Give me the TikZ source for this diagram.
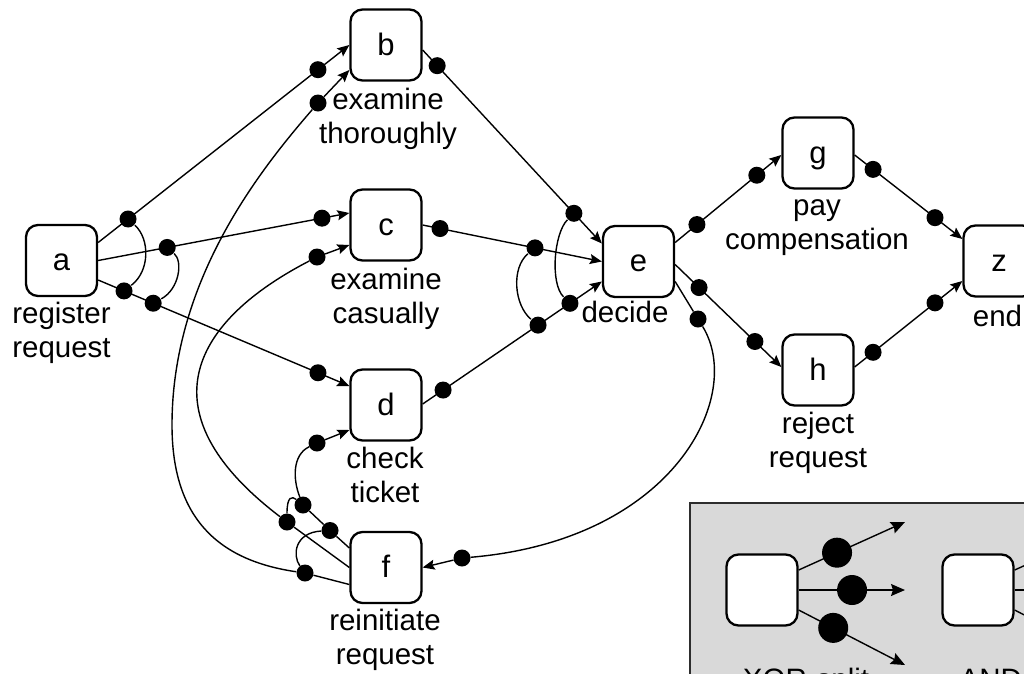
\documentclass[tikz,border=0pt]{standalone}
\usepackage{fontspec}
\setmainfont{Liberation Sans}
\usetikzlibrary{arrows.meta}
\definecolor{legendfill}{RGB}{217,217,217}
\definecolor{legendline}{RGB}{45,45,45}
\begin{document}
\begin{tikzpicture}[x=1pt,y=-1pt,
  box/.style={draw, line width=2.3pt, rounded corners=12pt, fill=white,
    minimum width=71pt, minimum height=71pt, inner sep=0pt,
    text height=20pt, text depth=0pt, font=\fontsize{31}{34}\selectfont},
  lbl/.style={anchor=north, inner sep=0pt, align=center,
    font=\fontsize{29.5}{34}\selectfont},
  dot/.style={circle, fill=black, inner sep=0pt, minimum size=17pt},
  bigdot/.style={circle, fill=black, inner sep=0pt, minimum size=30pt},
  conn/.style={line width=1.4pt, -{Stealth[length=12pt,width=10pt,inset=2pt]}},
  lconn/.style={line width=1.4pt, -{Stealth[length=14pt,width=12pt,inset=2pt]}},
  link/.style={line width=1.4pt}]
\useasboundingbox (0,0) rectangle (1024,673);
\clip (0,0) rectangle (1024,673);

% activities
\node[box] (a) at (61.5,260.5) {a};
\node[box] (b) at (386,45) {b};
\node[box] (c) at (386,225) {c};
\node[box] (d) at (386,405) {d};
\node[box] (e) at (638.5,261.5) {e};
\node[box] (f) at (386,567.5) {f};
\node[box] (g) at (818,153) {g};
\node[box] (h) at (818,370) {h};
\node[box] (z) at (999,261) {z};

% activity names
\node[lbl] (la) at (61.5,299.2) {\strut register\\request};
\node[lbl] (lb) at (388,85.2) {\strut examine\\thoroughly};
\node[lbl] (lc) at (386,265.2) {\strut examine\\casually};
\node[lbl] (ld) at (385,444.2) {\strut check\\ticket};
\node[lbl] (le) at (625,298.2) {\strut decide};
\node[lbl] (lf) at (385,606.2) {\strut reinitiate\\request};
\node[lbl] (lg) at (817,191.2) {\strut pay\\compensation};
\node[lbl] (lh) at (818,409.2) {\strut reject\\request};
\node[lbl] (lz) at (997.5,302.2) {\strut end};

% straight arcs with their binding dots
\draw[conn] ([yshift=18pt]a.east) -- node[dot,pos=0.119] (ab1) {} node[dot,pos=0.875] (ab2) {} (b.west);
\draw[conn] (a.east) -- node[dot,pos=0.275] (ac1) {} node[dot,pos=0.891] (ac2) {} ([yshift=12pt]c.west);
\draw[conn] ([yshift=-19.5pt]a.east) -- node[dot,pos=0.103] (ad1) {} node[dot,pos=0.219] (ad2) {} node[dot,pos=0.875] (ad3) {} ([yshift=19pt]d.west);
\draw[conn] ([yshift=-5pt]b.east) -- node[dot,pos=0.081] (be1) {} node[dot,pos=0.844] (be2) {} ([yshift=18pt]e.west);
\draw[conn] (c.east) -- node[dot,pos=0.097] (ce1) {} node[dot,pos=0.627] (ce2) {} (e.west);
\draw[conn] ([yshift=1pt]d.east) -- node[dot,pos=0.114] (de1) {} node[dot,pos=0.644] (de2) {} node[dot,pos=0.822] (de3) {} ([yshift=-20pt]e.west);
\draw[conn] ([yshift=19pt]e.east) -- node[dot,pos=0.205] (eg1) {} node[dot,pos=0.769] (eg2) {} ([yshift=-2pt]g.west);
\draw[conn] ([yshift=-3pt]e.east) -- node[dot,pos=0.225] (eh1) {} node[dot,pos=0.751] (eh2) {} ([yshift=3pt]h.west);
\draw[conn] ([yshift=-2pt]g.east) -- node[dot,pos=0.171] (gz1) {} node[dot,pos=0.746] (gz2) {} ([yshift=22pt]z.west);
\draw[conn] ([yshift=3pt]h.east) -- node[dot,pos=0.171] (hz1) {} node[dot,pos=0.746] (hz2) {} ([yshift=-20pt]z.west);

% curved arcs (decide -> reinitiate, reinitiate -> examine/check)
\node[dot] (ef1) at (698,319) {};
\node[dot] (ef2) at (462,558) {};
\draw[conn] ([yshift=-20pt]e.east) -- (ef1) .. controls (745,395) and (675,540) .. (ef2) -- (f.east);

\node[dot] (fb1) at (305,573) {};
\node[dot] (fb2) at (318,103) {};
\coordinate (fbturn) at (172,425);
\draw[conn] ([yshift=-17pt]f.west) -- (fb1) .. controls (215,560) and (172,515) .. (fbturn)
  .. controls (172,280) and (260,170) .. (fb2) -- ([yshift=-25pt]b.west);

\node[dot] (fc1) at (287,522) {};
\node[dot] (fc2) at (317,257) {};
\draw[conn] (f.west) -- (fc1) .. controls (140,410) and (195,320) .. (fc2) -- ([yshift=-20pt]c.west);

\node[dot] (fd1) at (330,530.5) {};
\node[dot] (fd2) at (303,505) {};
\node[dot] (fd3) at (317,443) {};
\draw[conn] ([yshift=19.5pt]f.west) -- (fd1) -- (fd2) .. controls (293,480) and (292,455) .. (fd3) -- ([yshift=-25pt]d.west);

% bindings joining dots
\draw[link] (ab1) .. controls +(22,20) and +(26,-20) .. (ad1);
\draw[link] (ac1) .. controls +(16,14) and +(26,-14) .. (ad2);
\draw[link] (be2) .. controls +(-20,20) and +(-20,-20) .. (de3);
\draw[link] (ce2) .. controls +(-24,20) and +(-24,-20) .. (de2);
\draw[link] (fc1) .. controls +(0,-26) and +(-11,-9) .. (fd2);
\draw[link] (fd1) .. controls +(-35,2) and +(-13,-18) .. (fb1);

% legend
\node[draw=legendline, line width=2pt, fill=legendfill, anchor=north west,
  minimum width=360pt, minimum height=200pt, inner sep=0pt] (legend) at (689,502) {};
\node[box] (l1) at (762,590) {};
\node[box] (l2) at (978,590) {};
\coordinate (x1) at (905,522);
\coordinate (x2) at (905,590);
\coordinate (x3) at (905,665);
\draw[lconn] ([yshift=20pt]l1.east) -- node[bigdot,pos=0.361] (xd1) {} (x1);
\draw[lconn] (l1.east) -- node[bigdot,pos=0.502] (xd2) {} (x2);
\draw[lconn] ([yshift=-20pt]l1.east) -- node[bigdot,pos=0.325] (xd3) {} (x3);
\coordinate (y1) at (1121,522);
\coordinate (y2) at (1121,590);
\coordinate (y3) at (1121,665);
\draw[link] ([yshift=20pt]l2.east) -- (y1);
\draw[link] (l2.east) -- (y2);
\draw[link] ([yshift=-20pt]l2.east) -- (y3);
\node[lbl, anchor=base] (xorlbl) at (806,689) {XOR-split};
\node[lbl, anchor=base] (andlbl) at (1022,689) {AND-split};
\end{tikzpicture}
\end{document}
